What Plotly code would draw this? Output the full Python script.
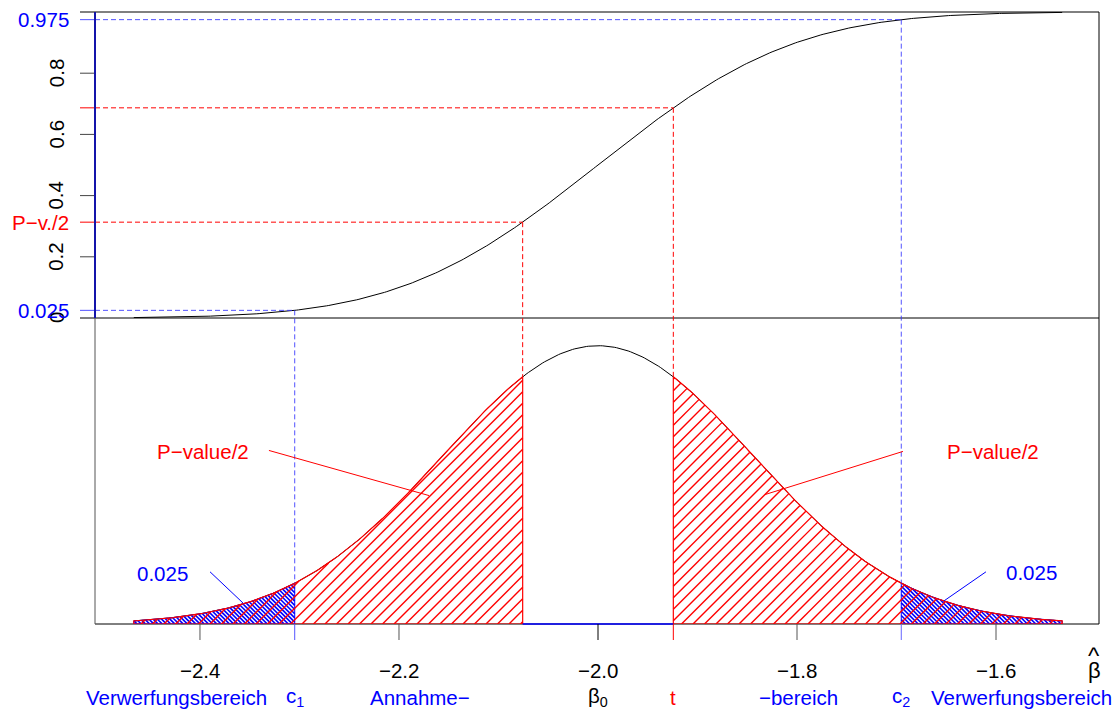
import math
import numpy as np
import plotly.graph_objects as go

# ---- values ----
beta0 = -2.0          # hypothesised value (centre of the distribution)
se = 0.1555           # standard error of beta-hat
c1 = -2.3048          # lower critical value
c2 = -1.6952          # upper critical value
t_stat = -1.9243      # observed estimate t
alpha_half = 0.025
x_lo = -2.4665        # curve drawn from beta0 - 3 se
x_hi = -1.5335        # ... to beta0 + 3 se

x_ticks = [-2.4, -2.2, -2.0, -1.8, -1.6]
x_tick_labels = ["−2.4", "−2.2", "−2.0", "−1.8", "−1.6"]
y_ticks = [0, 0.2, 0.4, 0.6, 0.8]
y_tick_labels = ["0", "0.2", "0.4", "0.6", "0.8"]

region_texts = ["Verwerfungsbereich", "c<sub>1</sub>", "Annahme−", "β<sub>0</sub>",
                "t", "−bereich", "c<sub>2</sub>", "Verwerfungsbereich"]
region_x = [-2.424, c1, -2.179, beta0, t_stat, -1.799, c2, -1.574]
region_colors = ["#0000ff", "#0000ff", "#0000ff", "#000000",
                 "#ff0000", "#0000ff", "#0000ff", "#0000ff"]

# ---- layout constants ----
FONT = "Liberation Sans, Arial, sans-serif"
FS = 20.5
BLUE = "#0000ff"
RED = "#ff0000"
DBLUE = "rgba(50,50,255,0.85)"
MARGIN_L, MARGIN_T = 95, 12
PLOT_W, PLOT_H = 1004, 612
X_RANGE = [-2.5055, -1.4965]
Y2_MAX = 2.821
PANEL_H = PLOT_H / 2
RED_SPACING = 11.5    # horizontal distance of hatch lines in px
BLUE_SPACING = 4.2


def pdf(x):
    x = np.asarray(x, dtype=float)
    return np.exp(-0.5 * ((x - beta0) / se) ** 2) / (se * math.sqrt(2 * math.pi))


def cdf(x):
    x = np.asarray(x, dtype=float)
    return 0.5 * (1 + np.vectorize(math.erf)((x - beta0) / (se * math.sqrt(2))))


t_low = 2 * beta0 - t_stat
p_half = float(cdf(t_low))

xs = np.linspace(x_lo, x_hi, 401)

X_SPAN = X_RANGE[1] - X_RANGE[0]
PX_PER_Y = PANEL_H / Y2_MAX


def to_px(x):
    return (x - X_RANGE[0]) / X_SPAN * PLOT_W


def from_px(p):
    return X_RANGE[0] + np.asarray(p) / PLOT_W * X_SPAN


def hatch(a, b, spacing, direction):
    """45-degree hatch segments (in screen space) inside the area under the density on [a, b]."""
    pa, pb = to_px(a), to_px(b)
    grid = np.append(np.arange(pa, pb, 0.1), pb)
    H = pdf(from_px(grid)) * PX_PER_Y
    hmax = H.max()
    out_x, out_y = [], []
    if direction > 0:
        k0 = math.floor((pa - hmax) / spacing) * spacing
        ks = np.arange(k0, pb + spacing, spacing)
    else:
        k0 = math.floor(pa / spacing) * spacing
        ks = np.arange(k0, pb + hmax + spacing, spacing)
    for k in ks:
        h = (grid - k) if direction > 0 else (k - grid)
        mask = (h >= 0) & (h <= H)
        if not mask.any():
            continue
        m = np.concatenate([[False], mask, [False]]).astype(int)
        d = np.diff(m)
        starts = np.where(d == 1)[0]
        ends = np.where(d == -1)[0] - 1
        for s, e in zip(starts, ends):
            if e <= s:
                continue
            out_x += [float(from_px(grid[s])), float(from_px(grid[e])), None]
            out_y += [h[s] / PX_PER_Y, h[e] / PX_PER_Y, None]
    return out_x, out_y


def region(a, b):
    seg = xs[(xs > a) & (xs < b)]
    px = np.concatenate([[a], [a], seg, [b], [b], [a]])
    py = np.concatenate([[0], pdf([a]), pdf(seg), pdf([b]), [0], [0]])
    return px, py


fig = go.Figure()

# CDF in top panel
fig.add_trace(go.Scatter(x=xs, y=cdf(xs), mode="lines", line=dict(color="black", width=1),
                         xaxis="x", yaxis="y", hoverinfo="skip", showlegend=False))
# density in bottom panel
fig.add_trace(go.Scatter(x=xs, y=pdf(xs), mode="lines", line=dict(color="black", width=1),
                         xaxis="x", yaxis="y2", hoverinfo="skip", showlegend=False))

# blue cross-hatched tails
for a, b in [(x_lo, c1), (c2, x_hi)]:
    hx, hy = hatch(a, b, BLUE_SPACING, -1)
    fig.add_trace(go.Scatter(x=hx, y=hy, mode="lines", line=dict(color=BLUE, width=1.6),
                             xaxis="x", yaxis="y2", hoverinfo="skip", showlegend=False))
    px, py = region(a, b)
    fig.add_trace(go.Scatter(x=px, y=py, mode="lines", line=dict(color=BLUE, width=1),
                             xaxis="x", yaxis="y2", hoverinfo="skip", showlegend=False))
# red hatched P-value regions
for a, b in [(x_lo, t_low), (t_stat, x_hi)]:
    hx, hy = hatch(a, b, RED_SPACING, +1)
    fig.add_trace(go.Scatter(x=hx, y=hy, mode="lines", line=dict(color=RED, width=1.4),
                             xaxis="x", yaxis="y2", hoverinfo="skip", showlegend=False))
    px, py = region(a, b)
    fig.add_trace(go.Scatter(x=px, y=py, mode="lines", line=dict(color=RED, width=1.2),
                             xaxis="x", yaxis="y2", hoverinfo="skip", showlegend=False))

shapes = []
tick_x0 = -15 / PLOT_W  # ticks reach 15px left of the axis


def top_paper(v):
    return 0.5 + 0.5 * v


def bot_paper(v):
    return 0.5 * v / Y2_MAX


# frame pieces
shapes.append(dict(type="line", xref="paper", yref="paper", x0=0, x1=1, y0=0, y1=0,
                   line=dict(color="black", width=1), layer="below"))
shapes.append(dict(type="line", xref="x", yref="paper", x0=t_low, x1=t_stat, y0=0, y1=0,
                   line=dict(color=BLUE, width=1.5)))
shapes.append(dict(type="line", xref="paper", yref="paper", x0=tick_x0, x1=1, y0=1, y1=1,
                   line=dict(color="black", width=1)))
shapes.append(dict(type="line", xref="paper", yref="paper", x0=tick_x0, x1=1, y0=0.5, y1=0.5,
                   line=dict(color="black", width=1)))
shapes.append(dict(type="line", xref="paper", yref="paper", x0=1, x1=1, y0=0, y1=1,
                   line=dict(color="black", width=1)))
shapes.append(dict(type="line", xref="paper", yref="paper", x0=0, x1=0, y0=0, y1=0.5,
                   line=dict(color="#555555", width=1)))

# y ticks (top panel)
for v in y_ticks[1:]:
    shapes.append(dict(type="line", xref="paper", yref="paper", x0=tick_x0, x1=0,
                       y0=top_paper(v), y1=top_paper(v), line=dict(color="#444444", width=1)))

# horizontal guide lines with their ticks
for v, xend, col in [(1 - alpha_half, c2, DBLUE), (alpha_half, c1, DBLUE),
                     (p_half, t_low, RED), (1 - p_half, t_stat, RED)]:
    shapes.append(dict(type="line", xref="paper", yref="paper", x0=tick_x0, x1=0,
                       y0=top_paper(v), y1=top_paper(v), line=dict(color=col, width=1)))
    shapes.append(dict(type="line", xref="x", yref="paper", x0=X_RANGE[0], x1=xend,
                       y0=top_paper(v), y1=top_paper(v),
                       line=dict(color=col, width=1, dash="5px,3px")))
    shapes.append(dict(type="line", xref="x", yref="paper", x0=xend, x1=xend,
                       y0=top_paper(v), y1=bot_paper(float(pdf([xend])[0])),
                       line=dict(color=col, width=1, dash="5px,3px")))

# blue left axis of the top panel
shapes.append(dict(type="line", xref="paper", yref="paper", x0=0, x1=0, y0=0.5, y1=1,
                   line=dict(color="#1414aa", width=2)))

# x ticks
tick_len = -16 / PLOT_H
for v in x_ticks:
    col = "#000000" if v == beta0 else "#555555"
    shapes.append(dict(type="line", xref="x", yref="paper", x0=v, x1=v, y0=0, y1=tick_len,
                       line=dict(color=col, width=1)))
for v, col in [(c1, "#5555ff"), (c2, "#6666ff"), (t_stat, RED)]:
    shapes.append(dict(type="line", xref="x", yref="paper", x0=v, x1=v, y0=0, y1=tick_len,
                       line=dict(color=col, width=1)))

# pointer lines
pointer_lines = [
    (-2.3307, 1.600, -2.1698, 1.184, RED),
    (-1.6935, 1.591, -1.8322, 1.193, RED),
    (-2.3899, 0.481, -2.3568, 0.194, BLUE),
    (-1.6101, 0.481, -1.6523, 0.213, BLUE),
]
for x0, y0, x1, y1, col in pointer_lines:
    shapes.append(dict(type="line", xref="x", yref="y2", x0=x0, y0=y0, x1=x1, y1=y1,
                       line=dict(color=col, width=1)))

annotations = []


def ann(text, x, y, xref, yref, color, xanchor="center", size=FS, angle=0):
    annotations.append(dict(text=text, x=x, y=y, xref=xref, yref=yref, showarrow=False,
                            xanchor=xanchor, yanchor="middle", textangle=angle,
                            font=dict(family=FONT, size=size, color=color)))


# y tick labels (rotated) and coloured horizontal labels
lab_x = -39 / PLOT_W
for v, s in zip(y_ticks, y_tick_labels):
    ann(s, lab_x, v, "paper", "y", "black", angle=-90)
right_x = -24 / PLOT_W
ann("0.975", right_x, 1 - alpha_half, "paper", "y", BLUE, xanchor="right")
ann("P−v./2", right_x, p_half, "paper", "y", RED, xanchor="right")
ann("0.025", right_x, alpha_half, "paper", "y", BLUE, xanchor="right")

# x tick labels
row1 = -(670 - 624) / PLOT_H
row2 = -(697 - 624) / PLOT_H
for v, s in zip(x_ticks, x_tick_labels):
    ann(s, v, row1, "x", "paper", "black")
ann("β", -1.5015, row1, "x", "paper", "black", size=22)
ann("^", -1.5015, -(655 - 624) / PLOT_H, "x", "paper", "black", size=24)
for s, v, col in zip(region_texts, region_x, region_colors):
    ann(s, v, row2, "x", "paper", col)

# in-panel labels
ann("P−value/2", -2.397, 1.591, "x", "y2", RED)
ann("P−value/2", -1.603, 1.591, "x", "y2", RED)
ann("0.025", -2.4372, 0.4625, "x", "y2", BLUE)
ann("0.025", -1.5648, 0.472, "x", "y2", BLUE)

hidden = dict(showticklabels=False, showgrid=False, zeroline=False, showline=False, ticks="")
fig.update_layout(
    width=1117, height=713,
    margin=dict(l=MARGIN_L, r=18, t=MARGIN_T, b=89),
    paper_bgcolor="white", plot_bgcolor="white",
    xaxis=dict(range=X_RANGE, anchor="y2", **hidden),
    yaxis=dict(domain=[0.5, 1], range=[0, 1], anchor="x", **hidden),
    yaxis2=dict(domain=[0, 0.5], range=[0, Y2_MAX], anchor="x", **hidden),
    shapes=shapes, annotations=annotations, showlegend=False,
)

fig.write_html("out.html", config=dict(displayModeBar=False),
               post_script="document.body.style.margin='0px';document.body.style.overflow='hidden';")
